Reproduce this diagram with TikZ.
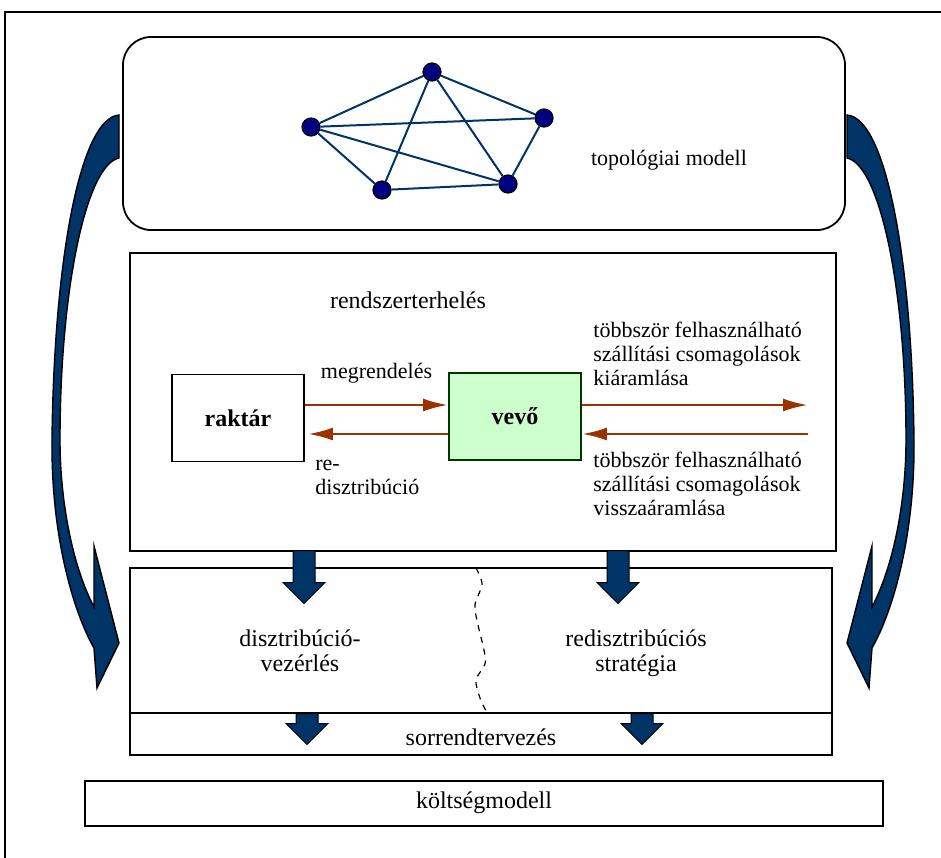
\documentclass[tikz,border=0pt]{standalone}
\usepackage{fontspec}
\setmainfont{Liberation Serif}
\usetikzlibrary{arrows.meta,shapes.arrows}

\definecolor{navy}{RGB}{0,51,102}
\definecolor{vertexblue}{RGB}{0,0,128}
\definecolor{flowred}{RGB}{153,51,0}
\definecolor{custgreen}{RGB}{204,255,204}
\definecolor{custborder}{RGB}{0,51,0}

\begin{document}
\begin{tikzpicture}[
    x=0.5pt, y=-0.5pt,
    panel/.style={rectangle, draw=black, line width=0.9pt, inner sep=0pt},
    vertex/.style={circle, draw=black, line width=0.6pt, fill=vertexblue, minimum size=9pt, inner sep=0pt},
    link/.style={draw=navy, line width=1pt},
    store/.style={panel, minimum width=66pt, minimum height=43.5pt, font=\fontsize{12}{14}\selectfont\bfseries},
    flow/.style={-{Latex[length=12.5pt,width=6.5pt]}, draw=flowred, line width=1.4pt},
    lbl/.style={inner sep=0pt, font=\fontsize{11}{12}\selectfont, align=left},
    heading/.style={inner sep=0pt, font=\fontsize{12}{12.5}\selectfont, align=center},
    pusharrow/.style={single arrow, draw=black, fill=navy, line width=0.5pt, rotate=-90, anchor=tail,
        inner xsep=0pt, inner ysep=5.25pt, single arrow head extend=5pt},
    loopband/.style={draw=black, fill=navy, line width=0.7pt}
]
\useasboundingbox (0,0) rectangle (941,857);

% outer frame
\draw[line width=0.7pt] (5,880) -- (5,12) -- (960,12);

% topology
\node[panel, rounded corners=14pt, minimum width=361pt, minimum height=96.5pt] (topo) at (484,133.5) {};
\node[vertex] (v1) at (432,72) {};
\node[vertex] (v2) at (544,118) {};
\node[vertex] (v3) at (311,127) {};
\node[vertex] (v4) at (382,190) {};
\node[vertex] (v5) at (508,184) {};
\foreach \a/\b in {v1/v2, v1/v3, v1/v4, v1/v5, v3/v2, v3/v4, v3/v5, v4/v5, v2/v5}
    \draw[link] (\a) -- (\b);
\node[lbl, anchor=base] (topotext) at (669,165) {topológiai modell};

% system load
\node[panel, minimum width=353pt, minimum height=149pt] (load) at (483,402) {};
\node[heading, anchor=base] (loadtext) at (408,308) {rendszerterhelés};
\node[store] (raktar) at (238,418) {raktár};
\node[store, fill=custgreen, draw=custborder] (vevo) at (515,416.5) {vevő};

\coordinate (outR) at (808,405);
\coordinate (inR) at (808,434);

\draw[flow] (raktar.east |- outR) -- (vevo.west |- outR)
    node[midway, above=10pt, lbl] (order) {megrendelés};
\draw[flow, shorten >=1.5pt] (vevo.west |- inR) -- (raktar.east |- inR);
\node[lbl, anchor=north west] (back) at (315,460) {re-\\disztribúció};

\draw[flow] (vevo.east |- outR) -- (outR);
\draw[flow] (inR) -- (vevo.east |- inR);
\node[lbl, anchor=north west] (outtext) at (593,322) {többször felhasználható\\szállítási csomagolások\\kiáramlása};
\node[lbl, anchor=north west] (intext) at (593,452) {többször felhasználható\\szállítási csomagolások\\visszaáramlása};

% distribution and sequencing
\node[panel, minimum width=351pt, minimum height=72.5pt] (dist) at (481,640.5) {};
\node[panel, minimum width=351pt, minimum height=21pt] (seq) at (481,734) {};
\draw[dashed, line width=0.6pt] plot[smooth] coordinates {(476,568) (482,584) (475,605) (478,625) (484,650) (485,664) (476,680) (480,698) (487,713)};
\node[heading] (disttext) at (300,651) {disztribúció-\\vezérlés};
\node[heading] (redisttext) at (636,653.5) {redisztribúciós\\stratégia};
\node[heading, anchor=base] (seqtext) at (481,745) {sorrendtervezés};

\node[pusharrow, minimum height=26.5pt] (d1) at (304,550) {};
\node[pusharrow, minimum height=26.5pt] (d2) at (618,550) {};
\node[pusharrow, minimum height=15.5pt] (s1) at (307,713) {};
\node[pusharrow, minimum height=15.5pt] (s2) at (642,713) {};

% cost model
\node[panel, minimum width=399pt, minimum height=22.5pt] (cost) at (484,803.5) {};
\node[heading, anchor=base] (costtext) at (484,808) {költségmodell};

% feedback arrows
\draw[loopband] (119,115) .. controls (80,118) and (54,260) .. (52,440)
    .. controls (51,540) and (75,615) .. (94,648) -- (97,688) -- (119,643) -- (94,546) -- (94,607)
    .. controls (72,565) and (60,500) .. (60,440)
    .. controls (60,290) and (86,165) .. (119,158) -- cycle;
\begin{scope}[shift={(966,0)}, xscale=-1]
\draw[loopband] (119,115) .. controls (80,118) and (54,260) .. (52,440)
    .. controls (51,540) and (75,615) .. (94,648) -- (97,688) -- (119,643) -- (94,546) -- (94,607)
    .. controls (72,565) and (60,500) .. (60,440)
    .. controls (60,290) and (86,165) .. (119,158) -- cycle;
\end{scope}

\end{tikzpicture}
\end{document}
